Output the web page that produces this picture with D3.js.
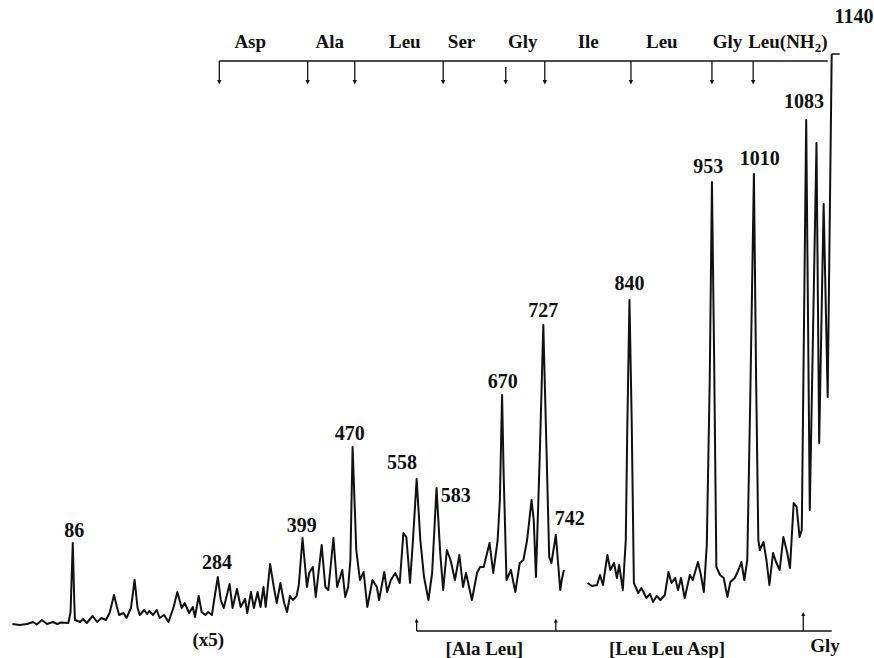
<!DOCTYPE html>
<html>
<head>
<meta charset="utf-8">
<script src="https://cdn.jsdelivr.net/npm/d3@7"></script>
<style>
  body { margin: 0; background: #fff; }
  text { font-family: "Liberation Serif", "Times New Roman", serif; font-weight: bold; fill: #111; }
</style>
</head>
<body>
<div id="spectrum"></div>
<script>
// Set up width and height
let width = 874,
    height = 658;

// trace, first part (m/z, relative intensity)
let traceA = [
  [5,2],[15,1],[25,2],[33,4],[38,1.5],[45,6],[52,2],[60,4],[66,2],[71,3.5],[81,3],[84,14],[87,83],[89,26],[90,6],
  [97,4],[101,7],[106,3],[114,10],[120,4],[126,8],[132,6],[137,13],[143,31],[147,19],[150,11],[156,13],[160,8],
  [166,18],[171,46],[175,18],[178,11],[184,16],[188,12],[191,15],[196,11],[201,16],[205,8],[211,11],[217,4],
  [224,19],[229,34],[235,18],[239,23],[245,13],[250,19],[253,9],[258,30],[262,14],[267,11],[271,14],[276,11],
  [279,26],[284,49],[288,26],[292,18],[300,42],[304,18],[310,37],[315,19],[321,27],[324,13],[329,34],[333,18],
  [338,34],[342,19],[346,39],[349,19],[355,62],[360,39],[364,23],[369,43],[374,23],[378,14],[382,30],[386,26],
  [391,30],[394,41],[399,88],[405,39],[408,53],[413,59],[417,29],[425,81],[430,39],[434,36],[441,88],[446,39],
  [453,56],[457,29],[461,39],[464,66],[467,179],[472,76],[477,46],[482,54],[487,19],[494,46],[500,39],[503,26],
  [510,54],[514,34],[519,46],[525,53],[531,43],[536,93],[540,89],[545,43],[549,86],[554,147],[559,86],[564,49],
  [570,26],[575,53],[581,138],[586,73],[590,36],[595,76],[600,66],[606,46],[612,71],[617,39],[621,53],[629,26],
  [636,53],[640,59],[645,59],[653,83],[658,53],[664,86],[667,126],[670,231],[672,156],[676,46],[682,56],[688,34],
  [694,63],[699,66],[704,86],[710,126],[713,106],[716,49],[721,166],[726,301],[730,186],[734,69],[737,63],
  [743,91],[749,36],[751,46],[754,56]
];

// trace, second part
let traceB = [
  [786,43],[792,40],[799,41],[803,51],[807,41],[810,56],[813,71],[817,56],[822,63],[826,48],[829,61],[834,36],
  [838,86],[840,196],[843,326],[846,206],[849,43],[855,33],[859,38],[862,34],[866,28],[871,32],[875,24],[880,30],
  [885,26],[891,31],[896,54],[900,43],[905,48],[909,36],[913,48],[918,28],[925,51],[929,46],[936,64],[940,51],
  [944,34],[948,81],[952,246],[955,444],[958,266],[961,59],[966,51],[971,48],[976,29],[980,44],[986,48],[991,56],
  [995,64],[999,46],[1003,66],[1007,226],[1012,452],[1015,246],[1018,86],[1020,76],[1025,84],[1029,66],[1033,41],
  [1038,73],[1042,64],[1047,56],[1052,89],[1057,74],[1061,58],[1066,123],[1070,119],[1074,89],[1077,96],
  [1083,506],[1091,116],[1106,483],[1112,183],[1122,422],[1131,229],[1140,572]
];

// peak labels: text, m/z where it sits, intensity of its baseline
let peakLabels = ["86", "284", "399", "470", "558", "583", "670", "727", "742", "840", "953", "1010", "1083", "1140"];
let peakLabelMz = [89, 283, 398, 463, 534, 607, 671, 726, 762, 843, 950, 1020, 1080, 1190];
let peakLabelInt = [89, 57, 94, 186, 157, 124, 238, 309, 101, 336, 453, 461, 518, 603];

// sequence ladder on top
let residues = ["Asp", "Ala", "Leu", "Ser", "Gly", "Ile", "Leu", "Gly", "Leu(NH"];
let residueMz = [328, 436, 538, 615, 698, 787, 887, 976, 1058];
let ladderMz = [286, 406, 470, 590, 675, 728, 845, 955, 1011];

// ladder on the bottom
let lowerMz = [554, 743, 1079];
let lowerGroups = ["[Ala Leu]", "[Leu Leu Asp]", "Gly"];
let lowerGroupMz = [646, 894, 1125];

let svg = d3.select("#spectrum")
    .append("svg")
    .attr("width", width)
    .attr("height", height);

// m/z axis is squeezed a bit past 1083 on the scan
let x = d3.scaleLinear()
    .domain([0, 1083, 1140])
    .range([8.7, 806.2, 831.7]);

let y = d3.scaleLinear()
    .domain([0, 600])
    .range([626, 26]);

let line = d3.line()
    .x(function(d) { return x(d[0]); })
    .y(function(d) { return y(d[1]); });

svg.selectAll("path.trace")
    .data([traceA, traceB])
    .enter()
    .append("path")
    .attr("class", "trace")
    .attr("d", line)
    .attr("fill", "none")
    .attr("stroke", "#111")
    .attr("stroke-width", 2)
    .attr("stroke-linejoin", "round");

// little hook at the top of 1140
svg.append("line")
    .attr("x1", x(1140)).attr("x2", x(1140) + 8)
    .attr("y1", y(572)).attr("y2", y(572))
    .attr("stroke", "#111").attr("stroke-width", 1.5);

// peak labels
svg.selectAll("text.peak")
    .data(peakLabels)
    .enter()
    .append("text")
    .attr("class", "peak")
    .attr("x", function(d, i) { return x(peakLabelMz[i]); })
    .attr("y", function(d, i) { return y(peakLabelInt[i]); })
    .style("text-anchor", "middle")
    .style("font-size", "20px")
    .text(function(d) { return d; });

// top ladder
let topY = 61, arrowEnd = 80;
svg.append("line")
    .attr("x1", x(ladderMz[0])).attr("x2", x(1140) - 4)
    .attr("y1", topY).attr("y2", topY)
    .attr("stroke", "#111").attr("stroke-width", 1.7);

let topArrows = svg.selectAll("g.topArrow")
    .data(ladderMz)
    .enter()
    .append("g")
    .attr("class", "topArrow")
    .attr("transform", function(d) { return `translate(${x(d)}, 0)`; });

topArrows.append("line")
    .attr("y1", function(d, i) { return i == 4 ? topY + 6 : topY; })
    .attr("y2", arrowEnd)
    .attr("stroke", "#111").attr("stroke-width", 1.3);

topArrows.append("path")
    .attr("d", `M-2.2,${arrowEnd} L2.2,${arrowEnd} L0,${arrowEnd + 4.5} Z`)
    .attr("fill", "#111");

let resText = svg.selectAll("text.res")
    .data(residues)
    .enter()
    .append("text")
    .attr("class", "res")
    .attr("x", function(d, i) { return x(residueMz[i]); })
    .attr("y", 48)
    .style("text-anchor", "middle")
    .style("font-size", "19px")
    .text(function(d) { return d; });

resText.filter(function(d) { return d == "Leu(NH"; })
    .append("tspan").attr("dy", 4).style("font-size", "13px").text("2");
resText.filter(function(d) { return d == "Leu(NH"; })
    .append("tspan").attr("dy", -4).text(")");

// bottom ladder
let botY = 631;
svg.append("line")
    .attr("x1", x(lowerMz[0])).attr("x2", x(1140))
    .attr("y1", botY).attr("y2", botY)
    .attr("stroke", "#111").attr("stroke-width", 1.7);

let botArrows = svg.selectAll("g.botArrow")
    .data(lowerMz)
    .enter()
    .append("g")
    .attr("class", "botArrow")
    .attr("transform", function(d) { return `translate(${x(d)}, 0)`; });

botArrows.append("line")
    .attr("y1", botY)
    .attr("y2", function(d, i) { return i == 2 ? botY - 15 : botY - 9; })
    .attr("stroke", "#111").attr("stroke-width", 1.3);

botArrows.append("path")
    .attr("d", function(d, i) {
        let t = i == 2 ? botY - 19 : botY - 12.5;
        return `M-2,${t + 4} L2,${t + 4} L0,${t} Z`;
    })
    .attr("fill", "#111");

svg.selectAll("text.group")
    .data(lowerGroups)
    .enter()
    .append("text")
    .attr("class", "group")
    .attr("x", function(d, i) { return x(lowerGroupMz[i]); })
    .attr("y", function(d, i) { return i == 2 ? 652 : 655; })
    .style("text-anchor", "middle")
    .style("font-size", "19px")
    .text(function(d) { return d; });

// magnification note
svg.append("text")
    .attr("x", x(271))
    .attr("y", 646)
    .style("text-anchor", "middle")
    .style("font-size", "19px")
    .text("(x5)");
</script>
</body>
</html>
